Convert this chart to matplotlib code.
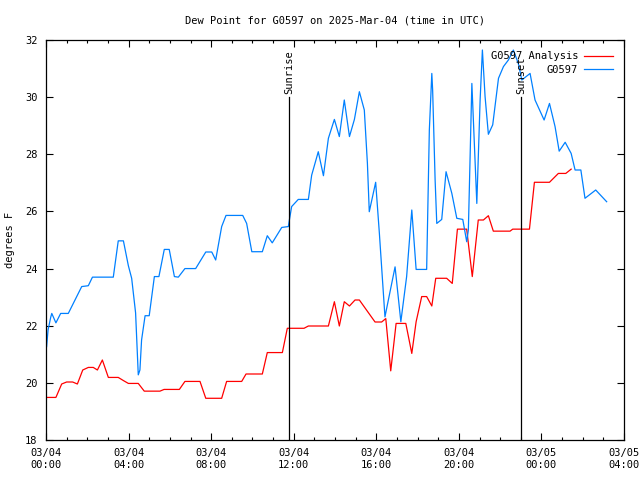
import matplotlib
matplotlib.use('Agg')
import matplotlib.pyplot as plt
from matplotlib.ticker import MultipleLocator, FixedLocator

# hours since 2025-03-04 00:00 UTC
obs_hours = [0.03, 0.1, 0.23, 0.28, 0.48, 0.71, 1.08, 1.73, 2.05, 2.25, 3.26, 3.5, 3.75,
             3.99, 4.15, 4.34, 4.47, 4.55, 4.63, 4.8, 5.0, 5.25, 5.47, 5.73, 5.97, 6.22,
             6.41, 6.73, 7.25, 7.74, 8.03, 8.22, 8.51, 8.72, 9.53, 9.72, 9.97, 10.48,
             10.72, 10.96, 11.42, 11.74, 11.79, 11.9, 12.22, 12.71, 12.87, 13.19, 13.44,
             13.68, 13.97, 14.21, 14.45, 14.7, 14.94, 15.18, 15.42, 15.57, 15.66, 15.97,
             16.15, 16.42, 16.91, 17.19, 17.47, 17.72, 17.93, 18.44, 18.57, 18.69, 18.73,
             18.85, 18.93, 19.17, 19.38, 19.66, 19.9, 20.19, 20.38, 20.46, 20.63, 20.87,
             21.03, 21.14, 21.27, 21.43, 21.64, 21.92, 22.16, 22.4, 22.64, 22.88, 23.05,
             23.45, 23.69, 24.13, 24.39, 24.66, 24.86, 25.15, 25.44, 25.63, 25.91, 26.11,
             26.63, 27.16]
obs_dewpt = [21.27, 21.85, 22.3, 22.43, 22.1, 22.43, 22.43, 23.37, 23.4, 23.7, 23.7, 24.97,
             24.97, 24.1, 23.66, 22.45, 20.28, 20.45, 21.5, 22.35, 22.35, 23.72, 23.72,
             24.67, 24.67, 23.72, 23.7, 24.0, 24.0, 24.58, 24.58, 24.3, 25.47, 25.86,
             25.86, 25.58, 24.59, 24.59, 25.15, 24.9, 25.44, 25.47, 25.7, 26.17, 26.42,
             26.42, 27.27, 28.09, 27.25, 28.56, 29.22, 28.62, 29.9, 28.62, 29.22, 30.19,
             29.55, 27.68, 25.99, 27.02, 25.23, 22.31, 24.06, 22.14, 23.72, 26.05, 23.97,
             23.97, 28.85, 30.83, 30.25, 27.1, 25.58, 25.72, 27.39, 26.63, 25.76, 25.72,
             24.94, 25.35, 30.48, 26.28, 29.9, 31.65, 30.02, 28.7, 29.03, 30.66, 31.07,
             31.3, 31.65, 31.18, 30.6, 30.83, 29.9, 29.2, 29.78, 28.97, 28.11, 28.42,
             28.03, 27.45, 27.45, 26.46, 26.75, 26.34]

ana_hours = [0.03, 0.48, 0.76, 1.0, 1.29, 1.52, 1.78, 2.05, 2.29, 2.49, 2.73, 3.02, 3.5,
             3.75, 3.99, 4.47, 4.76, 5.52, 5.72, 6.46, 6.73, 7.46, 7.74, 8.51, 8.75, 9.48,
             9.69, 10.48, 10.72, 11.45, 11.69, 12.5, 12.71, 13.68, 13.97, 14.21, 14.45,
             14.7, 14.97, 15.18, 15.94, 16.26, 16.46, 16.7, 16.87, 16.96, 17.43, 17.72,
             17.93, 18.2, 18.44, 18.69, 18.88, 19.41, 19.68, 19.93, 20.38, 20.46, 20.65,
             20.94, 21.19, 21.43, 21.67, 22.48, 22.61, 23.42, 23.66, 24.39, 24.82, 25.18,
             25.44]
ana_dewpt = [19.49, 19.49, 19.96, 20.03, 20.03, 19.96, 20.45, 20.54, 20.54, 20.45, 20.8,
             20.19, 20.19, 20.08, 19.98, 19.98, 19.71, 19.71, 19.77, 19.77, 20.05, 20.05,
             19.46, 19.46, 20.05, 20.05, 20.31, 20.31, 21.06, 21.06, 21.91, 21.91, 21.99,
             21.99, 22.84, 21.99, 22.84, 22.69, 22.9, 22.9, 22.13, 22.13, 22.25, 20.42,
             21.5, 22.08, 22.08, 21.03, 22.14, 23.02, 23.02, 22.69, 23.66, 23.66, 23.48,
             25.38, 25.38, 24.88, 23.72, 25.7, 25.7, 25.85, 25.31, 25.31, 25.38, 25.38,
             27.02, 27.02, 27.33, 27.33, 27.48]

sun_events = ['Sunrise', 'Sunset']
sun_hours = [11.79, 23.03]

tick_hours = [0, 4, 8, 12, 16, 20, 24, 28]
tick_labels = ['03/04\n00:00', '03/04\n04:00', '03/04\n08:00', '03/04\n12:00',
               '03/04\n16:00', '03/04\n20:00', '03/05\n00:00', '03/05\n04:00']

plt.rcParams['font.family'] = 'DejaVu Sans Mono'
plt.rcParams['font.size'] = 7.5

fig = plt.figure(figsize=(6.4, 4.8), dpi=100)
ax = fig.add_axes([46/640, 40/480, 578/640, 400/480])

ax.plot(ana_hours, ana_dewpt, color='#ff0000', lw=0.9, label='G0597 Analysis')
ax.plot(obs_hours, obs_dewpt, color='#0080ff', lw=0.9, label='G0597')

for name, h in zip(sun_events, sun_hours):
    ax.plot([h, h], [18, 30], color='black', lw=0.9)
    ax.text(h, 30.1, name, rotation=90, ha='center', va='bottom')

ax.set_xlim(0, 28)
ax.set_ylim(18, 32)
ax.xaxis.set_major_locator(FixedLocator(tick_hours))
ax.set_xticklabels(tick_labels)
ax.xaxis.set_minor_locator(MultipleLocator(1))
ax.yaxis.set_major_locator(MultipleLocator(2))
ax.tick_params(which='both', direction='in', top=True, right=True, width=0.8)
ax.tick_params(which='major', length=5, pad=6)
ax.tick_params(which='minor', length=2.5)
for s in ax.spines.values():
    s.set_linewidth(0.9)

ax.set_ylabel('degrees F', labelpad=7)
ax.set_title('Dew Point for G0597 on 2025-Mar-04 (time in UTC)', pad=12, fontsize=7.5)

leg = ax.legend(loc='upper right', frameon=False, markerfirst=False,
                handlelength=2.7, borderaxespad=0.9, labelspacing=0.35,
                handletextpad=0.6, borderpad=0.2)
for t in leg.get_texts():
    t.set_ha('right')

fig.savefig('out.png', dpi=100)
